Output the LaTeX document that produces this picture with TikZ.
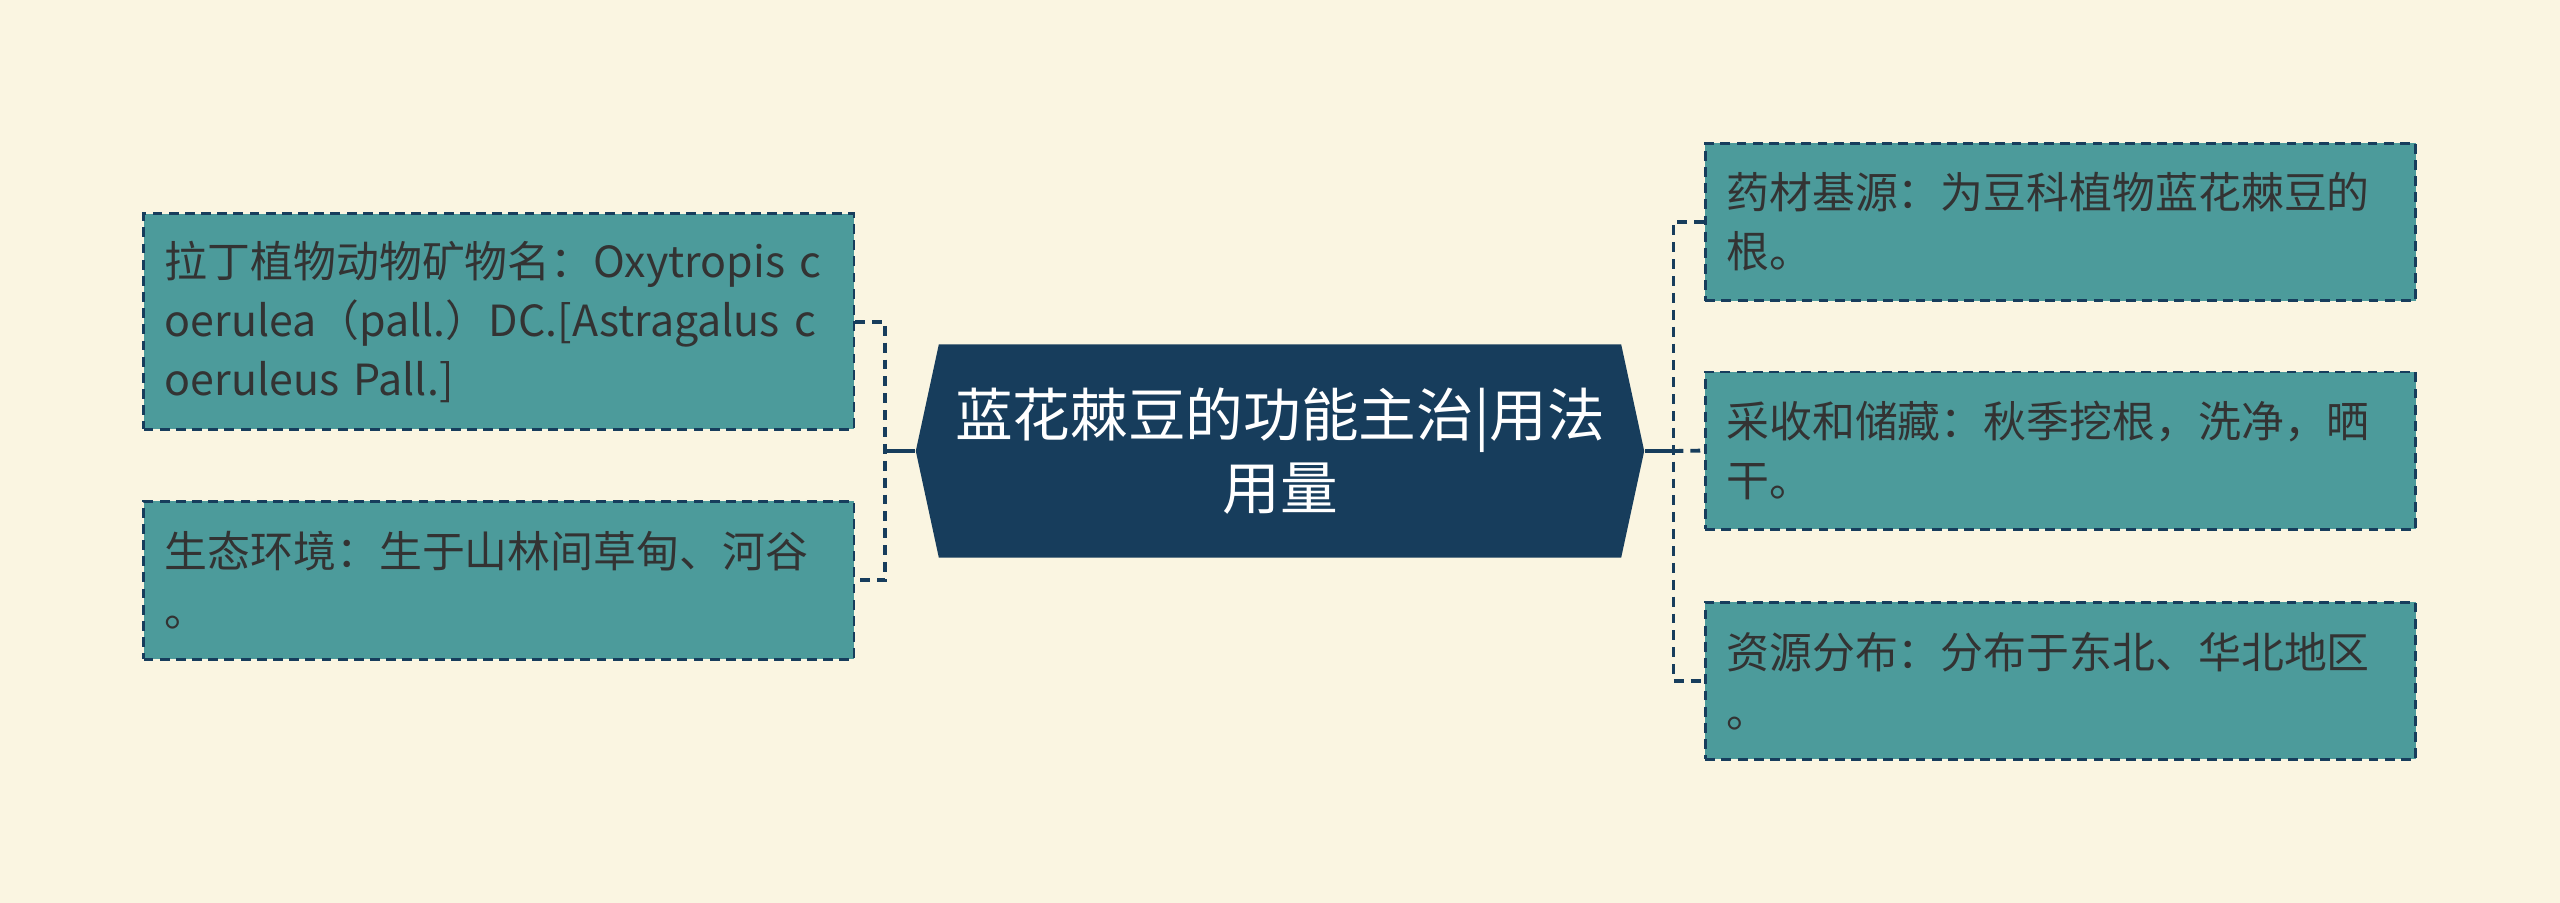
\documentclass[tikz,border=0pt]{standalone}
\usepackage{fontspec}
\setmainfont{Noto Sans CJK SC}
\usepackage{tikz}
\definecolor{paper}{HTML}{FAF5E1}
\definecolor{teal}{HTML}{4C9B9B}
\definecolor{navy}{HTML}{173D5C}
\definecolor{ink}{HTML}{333333}
\tikzstyle{leaf}=[draw=navy,fill=teal,line width=0.8pt,dash pattern=on 2.8pt off 1.8pt,minimum width=7.1cm,text width=6.68cm,inner xsep=0.21cm,align=left,text=ink,font=\fontsize{12.2}{16.8}\selectfont]
\tikzstyle{hub}=[fill=paper,minimum width=7.28cm,minimum height=2.13cm,align=center,text=white,font=\fontsize{16.4}{20.8}\selectfont,
    path picture={\fill[navy] (path picture bounding box.west) -- ([xshift=0.23cm]path picture bounding box.north west) -- ([xshift=-0.23cm]path picture bounding box.north east) -- (path picture bounding box.east) -- ([xshift=-0.23cm]path picture bounding box.south east) -- ([xshift=0.23cm]path picture bounding box.south west) -- cycle;}]
\tikzstyle{link}=[draw=navy,line width=1.1pt,dash pattern=on 2.8pt off 2pt]
\tikzstyle{stem}=[draw=navy,line width=1.3pt]

\begin{document}
\begin{tikzpicture}[x=0.01cm,y=-0.01cm]
    \fill[paper] (0,0) rectangle (2560,903);
    \useasboundingbox (0,0) rectangle (2560,903);
        % centre
        \node[hub] (main) at (1280,451) {蓝花棘豆的功能主治|用法\\用量};
        % left side
        \node[leaf,minimum height=2.155cm] (latin) at (498.8,321.6) {拉丁植物动物矿物名：Oxytropis c\\oerulea（pall.）DC.[Astragalus c\\oeruleus Pall.]};
        \node[leaf,minimum height=1.58cm] (habitat) at (498.8,580.4) {生态环境：生于山林间草甸、河谷\\。};
        % right side
        \node[leaf,minimum height=1.57cm] (origin) at (2060.5,222) {药材基源：为豆科植物蓝花棘豆的\\根。};
        \node[leaf,minimum height=1.57cm] (harvest) at (2060.5,450.6) {采收和储藏：秋季挖根，洗净，晒\\干。};
        \node[leaf,minimum height=1.57cm] (range) at (2060.5,680.8) {资源分布：分布于东北、华北地区\\。};
        \coordinate (lj) at (885,451);
        \coordinate (rj) at (1673.5,451);
        \path[stem] (main.west) -- (lj);
        \path[stem] (main.east) -- (rj);
        \path[link] (latin.east) -- (latin.east -| lj) -- (habitat.east -| lj) -- (habitat.east);
        \path[link] (origin.west) -- (origin.west -| rj) -- (range.west -| rj) -- (range.west);
        \path[link] (rj) -- (harvest.west);
    \end{tikzpicture}
\end{document}
